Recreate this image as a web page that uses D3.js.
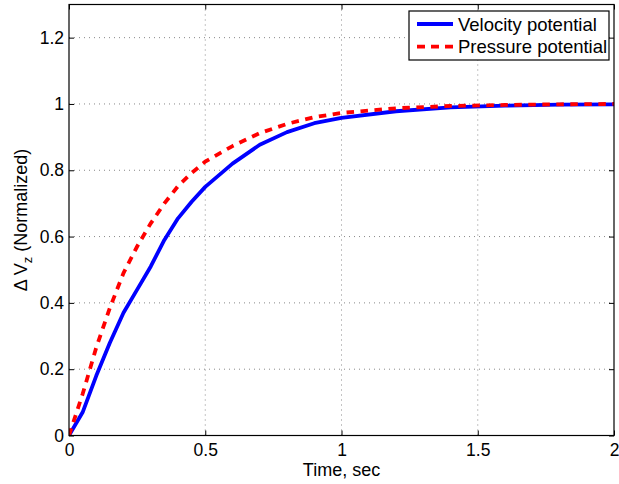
<!DOCTYPE html>
<html>
<head>
<meta charset="utf-8">
<script src="https://cdn.jsdelivr.net/npm/d3@7"></script>
<style>
	body { margin: 0; background: #fff; }
	svg { display: block; font-family: "Liberation Sans", Arial, sans-serif; }
</style>
</head>
<body>
<div id="chart"></div>
<script>
// Data
const time = [0, 0.05, 0.1, 0.15, 0.2, 0.25, 0.3, 0.35, 0.4, 0.45, 0.5, 0.6, 0.7, 0.8, 0.9, 1.0, 1.2, 1.4, 1.6, 1.8, 2.0];
const velocityPotential = [0, 0.07, 0.18, 0.28, 0.37, 0.44, 0.51, 0.59, 0.655, 0.705, 0.75, 0.82, 0.877, 0.915, 0.942, 0.958, 0.978, 0.99, 0.995, 0.998, 0.999];
const pressurePotential = [0, 0.125, 0.265, 0.385, 0.49, 0.57, 0.64, 0.70, 0.752, 0.792, 0.826, 0.873, 0.912, 0.94, 0.96, 0.973, 0.987, 0.994, 0.997, 0.999, 1.0];
const xTicks = [0, 0.5, 1, 1.5, 2];
const yTicks = [0, 0.2, 0.4, 0.6, 0.8, 1, 1.2];
const seriesNames = ["Velocity potential", "Pressure potential"];

const width = 619, height = 484;
const margin = {top: 4.5, right: 5, bottom: 48.5, left: 69};
const innerW = width - margin.left - margin.right;
const innerH = height - margin.top - margin.bottom;

const svg = d3.select("#chart").append("svg")
	.attr("width", width)
	.attr("height", height);

const g = svg.append("g")
	.attr("transform", `translate(${margin.left},${margin.top})`);

const x = d3.scaleLinear().domain([0, 2]).range([0, innerW]);
const y = d3.scaleLinear().domain([0, 1.3]).range([innerH, 0]);

// grid
g.append("g").selectAll("line")
	.data(xTicks.slice(1, -1))
	.join("line")
	.attr("x1", d => x(d)).attr("x2", d => x(d))
	.attr("y1", 0).attr("y2", innerH)
	.attr("stroke", "#888").attr("stroke-dasharray", "1,4");

g.append("g").selectAll("line")
	.data(yTicks.slice(1))
	.join("line")
	.attr("x1", 0).attr("x2", innerW)
	.attr("y1", d => y(d)).attr("y2", d => y(d))
	.attr("stroke", "#888").attr("stroke-dasharray", "1,4");

// axes with inner ticks on all four sides
const tickStyle = sel => {
	sel.select(".domain").remove();
	sel.selectAll(".tick line").attr("stroke", "#000");
	sel.selectAll(".tick text").attr("fill", "#000").style("font-size", "17.5px")
		.style("font-family", '"Liberation Sans", Arial, sans-serif');
};

g.append("g")
	.attr("transform", `translate(0,${innerH})`)
	.call(d3.axisBottom(x).tickValues(xTicks).tickSizeInner(-5).tickPadding(8).tickFormat(d3.format("")))
	.call(tickStyle);

g.append("g")
	.call(d3.axisTop(x).tickValues(xTicks).tickSizeInner(-5).tickFormat(""))
	.call(tickStyle);

g.append("g")
	.call(d3.axisLeft(y).tickValues(yTicks).tickSizeInner(-5).tickPadding(5).tickFormat(d3.format("")))
	.call(tickStyle);

g.append("g")
	.attr("transform", `translate(${innerW},0)`)
	.call(d3.axisRight(y).tickValues(yTicks).tickSizeInner(-5).tickFormat(""))
	.call(tickStyle);

// curves
g.append("clipPath").attr("id", "clip")
	.append("rect").attr("width", innerW).attr("height", innerH);

const line = d3.line()
	.x(d => x(d[0]))
	.y(d => y(d[1]));

g.append("path")
	.datum(d3.zip(time, velocityPotential))
	.attr("clip-path", "url(#clip)")
	.attr("d", line)
	.attr("fill", "none")
	.attr("stroke", "#0000ff")
	.attr("stroke-width", 3.8)
	.attr("stroke-linejoin", "round");

g.append("path")
	.datum(d3.zip(time, pressurePotential))
	.attr("clip-path", "url(#clip)")
	.attr("d", line)
	.attr("fill", "none")
	.attr("stroke", "#ff0000")
	.attr("stroke-width", 3.8)
	.attr("stroke-dasharray", "7.5,6.5");

// box
g.append("rect")
	.attr("width", innerW).attr("height", innerH)
	.attr("fill", "none").attr("stroke", "#000").attr("stroke-width", 1.2);

// axis labels
svg.append("text")
	.attr("x", margin.left + innerW / 2)
	.attr("y", 476)
	.attr("text-anchor", "middle")
	.style("font-size", "18px")
	.text("Time, sec");

const yLabel = svg.append("text")
	.attr("transform", `translate(27,${margin.top + innerH / 2}) rotate(-90)`)
	.attr("text-anchor", "middle")
	.style("font-size", "18px");
yLabel.append("tspan").text("\u0394 V");
yLabel.append("tspan").attr("dy", 5).style("font-size", "13px").text("z");
yLabel.append("tspan").attr("dy", -5).text(" (Normalized)");

// legend
const legend = svg.append("g").attr("transform", "translate(409,11)");
legend.append("rect")
	.attr("width", 200).attr("height", 49)
	.attr("fill", "#fff").attr("stroke", "#000").attr("stroke-width", 1.2);

const legendItems = legend.selectAll("g.item")
	.data(seriesNames)
	.join("g")
	.attr("class", "item")
	.attr("transform", (d, i) => `translate(0,${13 + i * 22.7})`);

legendItems.append("line")
	.attr("x1", 8).attr("x2", 44)
	.attr("stroke", (d, i) => i === 0 ? "#0000ff" : "#ff0000")
	.attr("stroke-width", 3.8)
	.attr("stroke-dasharray", (d, i) => i === 0 ? null : "8,6");

legendItems.append("text")
	.attr("x", 49)
	.attr("y", 6.5)
	.style("font-size", "18.5px")
	.text(d => d);
</script>
</body>
</html>
